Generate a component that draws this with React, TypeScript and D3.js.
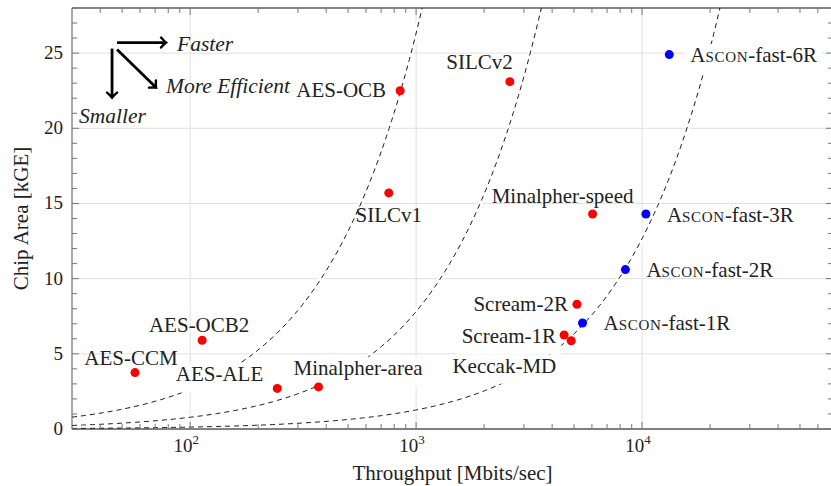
import React, { useRef, useEffect } from 'react';
import * as d3 from 'd3';

// designs, throughput in Mbits/sec, chip area in kGE
const names = [
  'AES-CCM', 'AES-OCB2', 'AES-ALE', 'Minalpher-area', 'AES-OCB', 'SILCv1', 'SILCv2',
  'Minalpher-speed', 'Scream-2R', 'Scream-1R', 'Keccak-MD',
  'Ascon-fast-1R', 'Ascon-fast-2R', 'Ascon-fast-3R', 'Ascon-fast-6R',
];
const throughput = [57, 113, 243, 370, 850, 757, 2600, 6040, 5150, 4520, 4860, 5450, 8440, 10400, 13200];
const area = [3.75, 5.9, 2.7, 2.8, 22.5, 15.7, 23.1, 14.3, 8.3, 6.25, 5.87, 7.05, 10.6, 14.3, 24.9];

// iso-efficiency lines (Mbits/sec per kGE)
const efficiency = [38, 128, 790];

const yTicks = [0, 5, 10, 15, 20, 25];
const xTicks = [100, 1000, 10000];

// label placement: [anchor, dx, dy, white box]
const labelPlace: [string, number, number, boolean][] = [
  ['middle', -4, -8, false],
  ['middle', -3, -8, false],
  ['end', -14, -7, true],
  ['start', -25, -12, true],
  ['end', -14, 6.5, false],
  ['middle', 0, 29, false],
  ['end', 3, -13, false],
  ['middle', -30, -11, false],
  ['end', -9, 7, false],
  ['end', -8, 8, true],
  ['end', -15, 32, true],
  ['start', 21, 7, false],
  ['start', 21, 7.5, false],
  ['start', 21, 8.5, false],
  ['start', 21, 7.5, true],
];

const FONT = "'Liberation Serif', 'DejaVu Serif', serif";
const LABEL_SIZE = 21;

const EfficiencyChart = () => {
  const chartRef = useRef<SVGSVGElement>(null);

  useEffect(() => {
    const width = 831;
    const height = 486;
    const margin = { top: 8, right: -2, bottom: 57, left: 72 };

    d3.select(chartRef.current).selectAll('*').remove();

    const svg = d3.select(chartRef.current)
      .attr('width', width)
      .attr('height', height)
      .style('font-family', FONT);

    const x = d3.scaleLog()
      .domain([30, 70000])
      .range([margin.left, width - margin.right]);

    const y = d3.scaleLinear()
      .domain([0, 28])
      .range([height - margin.bottom, margin.top]);

    const [x0, x1] = x.range();
    const [y0, y1] = y.range();

    svg.append('defs').append('clipPath').attr('id', 'plotclip')
      .append('rect')
      .attr('x', x0).attr('y', y1)
      .attr('width', x1 - x0).attr('height', y0 - y1);

    //grid
    const grid = svg.append('g').attr('stroke', '#e0e0e0').attr('stroke-width', 1);
    xTicks.forEach(t => {
      grid.append('line').attr('x1', x(t)).attr('x2', x(t)).attr('y1', y0).attr('y2', y1);
    });
    yTicks.forEach(t => {
      grid.append('line').attr('x1', x0).attr('x2', x1).attr('y1', y(t)).attr('y2', y(t));
    });

    //iso-efficiency curves
    const tSamples = d3.range(0, 301).map(i => 30 * Math.pow(70000 / 30, i / 300));
    const line = d3.line<number>()
      .x(d => x(d[0]))
      .y(d => y(d[1]));
    const curves = svg.append('g').attr('clip-path', 'url(#plotclip)');
    efficiency.forEach(e => {
      const pts = tSamples.map(t => [t, t / e]).filter(p => p[1] <= 30);
      curves.append('path').datum(pts as any)
        .attr('d', line as any)
        .attr('fill', 'none')
        .attr('stroke', '#fff')
        .attr('stroke-width', 5);
      curves.append('path').datum(pts as any)
        .attr('d', line as any)
        .attr('fill', 'none')
        .attr('stroke', '#000')
        .attr('stroke-width', 0.9)
        .attr('stroke-dasharray', '5,4');
    });

    //axes frame and ticks
    const axes = svg.append('g').attr('stroke', '#444').attr('stroke-width', 1);
    axes.append('line').attr('x1', x0).attr('x2', x1).attr('y1', y0).attr('y2', y0).attr('stroke', '#111');
    axes.append('line').attr('x1', x0).attr('x2', x1).attr('y1', y1).attr('y2', y1).attr('stroke', '#111');
    axes.append('line').attr('x1', x0).attr('x2', x0).attr('y1', y0).attr('y2', y1).attr('stroke', '#555');
    axes.append('line').attr('x1', x1).attr('x2', x1).attr('y1', y0).attr('y2', y1).attr('stroke', '#555');

    const minorX: number[] = [];
    [10, 100, 1000, 10000].forEach(dec => {
      for (let m = 2; m <= 9; m++) {
        const v = m * dec;
        if (v > 30 && v < 70000) minorX.push(v);
      }
    });
    const tickG = axes.append('g').attr('stroke', '#777');
    minorX.forEach(v => {
      tickG.append('line').attr('x1', x(v)).attr('x2', x(v)).attr('y1', y0).attr('y2', y0 - 5);
      tickG.append('line').attr('x1', x(v)).attr('x2', x(v)).attr('y1', y1).attr('y2', y1 + 5);
    });
    xTicks.forEach(v => {
      tickG.append('line').attr('x1', x(v)).attr('x2', x(v)).attr('y1', y0).attr('y2', y0 - 7);
      tickG.append('line').attr('x1', x(v)).attr('x2', x(v)).attr('y1', y1).attr('y2', y1 + 7);
    });
    d3.range(0, 29).forEach(v => {
      const len = v % 5 === 0 ? 7 : 5;
      tickG.append('line').attr('x1', x0).attr('x2', x0 + len).attr('y1', y(v)).attr('y2', y(v));
      tickG.append('line').attr('x1', x1).attr('x2', x1 - len).attr('y1', y(v)).attr('y2', y(v));
    });

    //tick labels
    yTicks.forEach(t => {
      svg.append('text')
        .attr('x', x0 - 9)
        .attr('y', y(t) + 6)
        .attr('text-anchor', 'end')
        .style('font-size', '19px')
        .style('fill', '#222')
        .text(t);
    });
    xTicks.forEach(t => {
      const txt = svg.append('text')
        .attr('x', x(t) - 4)
        .attr('y', y0 + 23)
        .attr('text-anchor', 'middle')
        .style('font-size', '19px')
        .style('fill', '#222');
      txt.append('tspan').text('10');
      txt.append('tspan')
        .attr('dy', -8)
        .style('font-size', '13px')
        .text(Math.round(Math.log10(t)));
    });

    //axis titles
    svg.append('text')
      .attr('x', (x0 + x1) / 2)
      .attr('y', 480)
      .attr('text-anchor', 'middle')
      .style('font-size', `${LABEL_SIZE}px`)
      .style('fill', '#222')
      .text('Throughput [Mbits/sec]');
    svg.append('text')
      .attr('transform', `translate(28,${(y0 + y1) / 2}) rotate(-90)`)
      .attr('text-anchor', 'middle')
      .style('font-size', `${LABEL_SIZE}px`)
      .style('fill', '#222')
      .text('Chip Area [kGE]');

    //labels, white backgrounds go below every label text
    const boxes = svg.append('g');
    const labels = svg.append('g');
    names.forEach((n, i) => {
      const [anchor, dx, dy, boxed] = labelPlace[i];
      const txt = labels.append('text')
        .attr('x', x(throughput[i]) + dx)
        .attr('y', y(area[i]) + dy)
        .attr('text-anchor', anchor)
        .style('font-size', `${LABEL_SIZE}px`)
        .style('fill', '#222');
      if (n.startsWith('Ascon')) {
        txt.append('tspan').text('A');
        txt.append('tspan')
          .style('font-size', '15px')
          .style('letter-spacing', '0.7px')
          .text('SCON');
        txt.append('tspan').text(n.slice(5));
      } else {
        txt.text(n);
      }
      if (boxed) {
        const bb = (txt.node() as SVGTextElement).getBBox();
        boxes.append('rect')
          .attr('x', bb.x - 5)
          .attr('y', bb.y + 1)
          .attr('width', bb.width + 10)
          .attr('height', bb.height + 5)
          .attr('fill', '#fff');
      }
    });

    //points
    svg.append('g')
      .selectAll('circle')
      .data(names)
      .join('circle')
      .attr('cx', (d, i) => x(throughput[i]))
      .attr('cy', (d, i) => y(area[i]))
      .attr('r', 4.5)
      .attr('fill', d => (d.startsWith('Ascon') ? '#0000ff' : '#ff0000'));

    //direction hints
    const defs = svg.select('defs');
    defs.append('marker')
      .attr('id', 'head')
      .attr('viewBox', '-7 -7 9 14')
      .attr('markerWidth', 9)
      .attr('markerHeight', 14)
      .attr('markerUnits', 'userSpaceOnUse')
      .attr('orient', 'auto')
      .append('path')
      .attr('d', 'M-5,-5 Q-1.5,-1 0,0 Q-1.5,1 -5,5')
      .attr('fill', 'none')
      .attr('stroke', '#000')
      .attr('stroke-width', 2.4)
      .attr('stroke-linecap', 'round');

    const ox = x(47);
    const oy = y(25.7);
    const hint = svg.append('g')
      .attr('stroke', '#000')
      .attr('stroke-width', 2.8)
      .attr('fill', 'none');
    hint.append('line').attr('x1', ox + 1).attr('y1', oy).attr('x2', ox + 50).attr('y2', oy).attr('marker-end', 'url(#head)');
    hint.append('line').attr('x1', ox - 4).attr('y1', oy + 6).attr('x2', ox - 4).attr('y2', oy + 55).attr('marker-end', 'url(#head)');
    hint.append('line').attr('x1', ox + 1).attr('y1', oy + 7).attr('x2', ox + 40).attr('y2', oy + 45).attr('marker-end', 'url(#head)');

    const hintText = [
      ['Faster', ox + 61, oy + 8.5],
      ['More Efficient', ox + 50, oy + 50],
      ['Smaller', ox - 37, oy + 80],
    ];
    hintText.forEach(([t, tx, ty]) => {
      svg.append('text')
        .attr('x', tx as number)
        .attr('y', ty as number)
        .style('font-size', '21.5px')
        .style('font-style', 'italic')
        .style('fill', '#222')
        .text(t as string);
    });
  }, []);

  return (
    <svg
      ref={chartRef}
      style={{ position: 'absolute', left: 0, top: 0, background: '#fff' }}
    ></svg>
  );
};

export default function App() {
  return <EfficiencyChart />;
}
